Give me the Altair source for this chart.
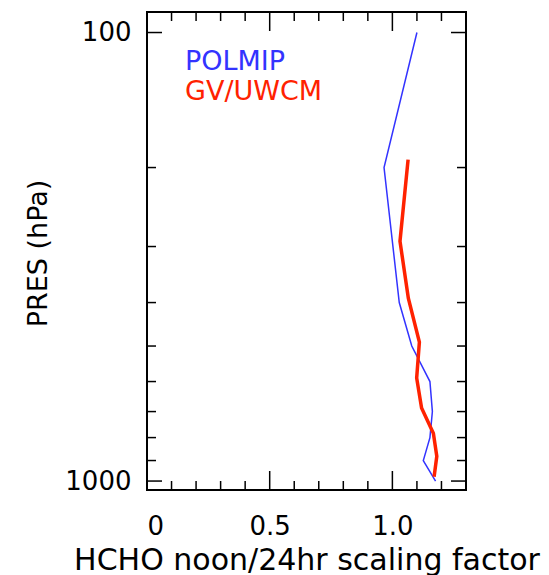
import altair as alt
import pandas as pd

# ---- data ----
series_names = ["POLMIP", "GV/UWCM"]
series_colors = ["#3333ff", "#ff2200"]

polmip_pres = [100, 200, 400, 500, 600, 700, 800, 900, 1000]
polmip_factor = [1.10, 0.966, 1.028, 1.079, 1.153, 1.163, 1.153, 1.126, 1.176]

gv_pres = [192, 292, 391, 490, 589, 687, 782, 880, 978]
gv_factor = [1.064, 1.031, 1.065, 1.110, 1.099, 1.119, 1.167, 1.181, 1.170]

x_label_values = [0, 0.5, 1.0]
y_label_values = [100, 1000]
x_minor_ticks = [0.1, 0.2, 0.3, 0.4, 0.6, 0.7, 0.8, 0.9, 1.1, 1.2]
x_major_ticks = [0.5, 1.0]
y_minor_ticks = [200, 300, 400, 500, 600, 700, 800, 900]
y_major_ticks = [100, 1000]

W, H = 319, 478
FONT = "DejaVu Sans"

xscale = alt.Scale(domain=[0, 1.3], nice=False, zero=False)
yscale = alt.Scale(type="log", domain=[90, 1047], reverse=True, nice=False)

xaxis = alt.Axis(
    values=x_label_values,
    labelExpr="datum.value == 0 ? '0' : format(datum.value, '.1f')",
    ticks=False, domain=False, grid=False,
    labelFont=FONT, labelFontSize=26, labelColor="black", labelPadding=23,
    title="HCHO noon/24hr scaling factor",
    titleFont=FONT, titleFontSize=30, titleFontWeight="normal", titleColor="black",
    titleBaseline="alphabetic", titleY=79,
)
yaxis = alt.Axis(
    values=y_label_values, format="d",
    ticks=False, domain=False, grid=False,
    labelFont=FONT, labelFontSize=26, labelColor="black", labelPadding=16,
    labelBaseline="middle",
    title="PRES (hPa)",
    titleFont=FONT, titleFontSize=27, titleFontWeight="normal", titleColor="black",
    titleAngle=270, titleBaseline="alphabetic", titleAlign="center",
    titleX=-101, titleY=241,
)

color_scale = alt.Scale(domain=series_names, range=series_colors)

df_p = pd.DataFrame({"factor": polmip_factor, "pres": polmip_pres, "series": series_names[0]})
df_g = pd.DataFrame({"factor": gv_factor, "pres": gv_pres, "series": series_names[1]})

def line_layer(df, width):
    return alt.Chart(df).mark_line(strokeWidth=width, clip=True).encode(
        x=alt.X("factor:Q", scale=xscale, axis=xaxis),
        y=alt.Y("pres:Q", scale=yscale, axis=yaxis),
        order=alt.Order("pres:Q"),
        color=alt.Color("series:N", scale=color_scale, legend=None),
    )

blue = line_layer(df_p, 1.5)
red = line_layer(df_g, 3.5)

def xticks(vals, top, length):
    d = pd.DataFrame({"tx": vals})
    if top:
        y1, y2 = 0, length
    else:
        y1, y2 = H, H - length
    return alt.Chart(d).mark_rule(color="black", strokeWidth=1.5).encode(
        x=alt.X("tx:Q", scale=xscale, axis=xaxis),
        y=alt.value(y1), y2=alt.value(y2),
    )

def yticks(vals, right, length):
    d = pd.DataFrame({"ty": vals})
    if right:
        x1, x2 = W, W - length
    else:
        x1, x2 = 0, length
    return alt.Chart(d).mark_rule(color="black", strokeWidth=1.5).encode(
        y=alt.Y("ty:Q", scale=yscale, axis=yaxis),
        x=alt.value(x1), x2=alt.value(x2),
    )

tick_layers = [
    xticks(x_minor_ticks, False, 9), xticks(x_major_ticks, False, 19),
    xticks(x_minor_ticks, True, 9), xticks(x_major_ticks, True, 19),
    yticks(y_minor_ticks, False, 9), yticks(y_major_ticks, False, 15),
    yticks(y_minor_ticks, True, 9), yticks(y_major_ticks, True, 15),
]

def legend_text(name, ypix):
    d = pd.DataFrame({"series": [name]})
    return alt.Chart(d).mark_text(
        font=FONT, fontSize=27, align="left", baseline="alphabetic"
    ).encode(
        x=alt.value(38), y=alt.value(ypix),
        text="series:N",
        color=alt.Color("series:N", scale=color_scale, legend=None),
    )

leg1 = legend_text(series_names[0], 58)
leg2 = legend_text(series_names[1], 88)

chart = alt.layer(blue, red, *tick_layers, leg1, leg2).properties(
    width=W, height=H,
    autosize=alt.AutoSizeParams(type="none"),
    padding={"left": 147, "top": 12, "right": 549 - 147 - W, "bottom": 575 - 12 - H},
    background="white",
).configure_view(stroke="black", strokeWidth=2)

chart.save("out.html", embed_options={"renderer": "svg", "actions": False})
